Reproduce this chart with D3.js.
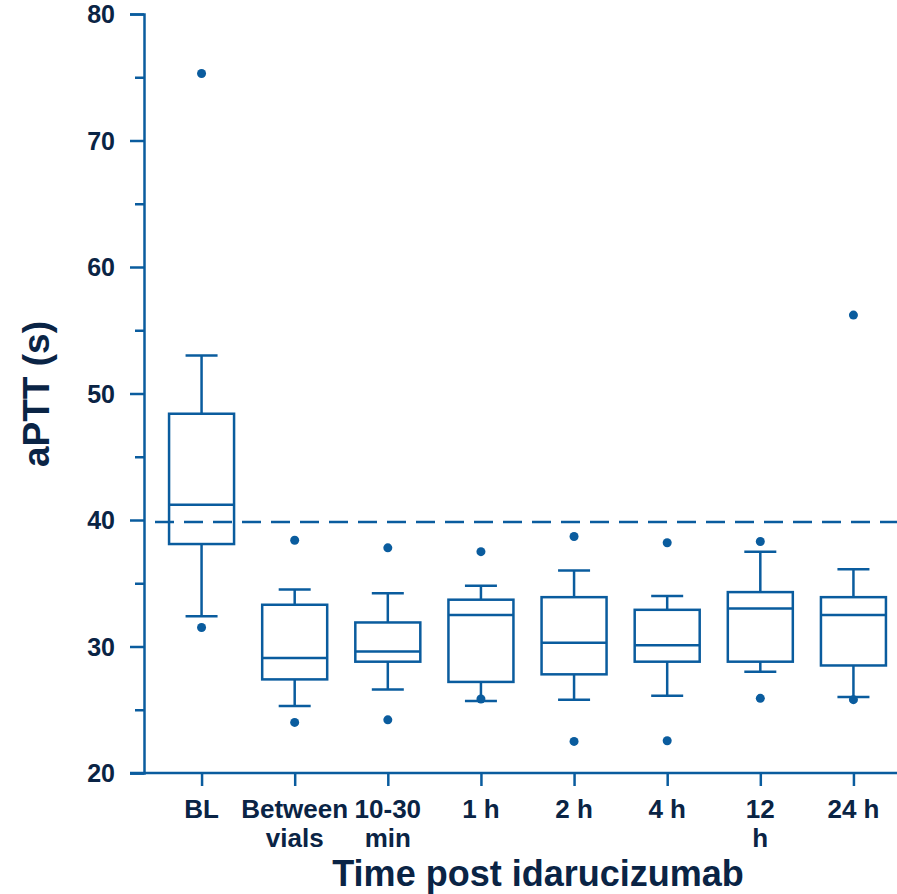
<!DOCTYPE html>
<html>
<head>
<meta charset="utf-8">
<script src="https://cdn.jsdelivr.net/npm/d3@7"></script>
<style>
  body { margin: 0; background: #fff; }
  svg text { font-family: "Liberation Sans", Arial, sans-serif; font-weight: bold; fill: #0a2445; }
</style>
</head>
<body>
<script>
// categories (label lines)
var categories = ["BL", "Between vials", "10-30 min", "1 h", "2 h", "4 h", "12 h", "24 h"];
var labelLines = [["BL"], ["Between", "vials"], ["10-30", "min"], ["1 h"], ["2 h"], ["4 h"], ["12", "h"], ["24 h"]];
// box stats, per category
var whiskerLow = [32.4, 25.3, 26.6, 25.7, 25.8, 26.1, 28.0, 26.0];
var q1 = [38.1, 27.4, 28.8, 27.2, 27.8, 28.8, 28.8, 28.5];
var median = [41.2, 29.1, 29.6, 32.5, 30.3, 30.1, 33.0, 32.5];
var q3 = [48.4, 33.3, 31.9, 33.7, 33.9, 32.9, 34.3, 33.9];
var whiskerHigh = [53.0, 34.5, 34.2, 34.8, 36.0, 34.0, 37.5, 36.1];
// outliers: [category index, value]
var outliers = [
  [0, 75.3], [0, 31.5],
  [1, 38.4], [1, 24.0],
  [2, 37.8], [2, 24.2],
  [3, 37.5], [3, 25.85],
  [4, 38.7], [4, 22.5],
  [5, 38.2], [5, 22.55],
  [6, 38.3], [6, 25.9],
  [7, 56.2], [7, 25.8]
];
var yTicks = [20, 30, 40, 50, 60, 70, 80];
var yMinorTicks = [25, 35, 45, 55, 65, 75];
var refLine = 39.85;

function draw() {
  var w = 897, h = 894;
  var color = "#0a5c9e";
  var svg = d3.select("body").append("svg").attr("width", w).attr("height", h);

  var x = d3.scalePoint().domain(categories).range([155, 900]).padding(0.5);
  var y = d3.scaleLinear().domain([20, 80]).range([773, 14]);

  var boxW = 65, capW = 32;

  // y axis
  var yAxis = d3.axisLeft(y).tickValues(yTicks).tickSize(14).tickPadding(15).tickFormat(d3.format("d"));
  var gy = svg.append("g").attr("transform", "translate(144,0)").call(yAxis);
  gy.select(".domain").attr("stroke", color).attr("stroke-width", 2.5);
  gy.selectAll(".tick line").attr("stroke", color).attr("stroke-width", 2.5);
  gy.selectAll(".tick text").style("font-size", "25px").attr("dy", "0.35em");
  svg.append("g").attr("transform", "translate(144,0)")
    .call(d3.axisLeft(y).tickValues(yMinorTicks).tickSize(9).tickFormat(""))
    .call(g => g.select(".domain").remove())
    .selectAll(".tick line").attr("stroke", color).attr("stroke-width", 2.5);

  // x axis
  var xAxis = d3.axisBottom(x).tickSize(13).tickFormat("");
  var gx = svg.append("g").attr("transform", "translate(0,773)").call(xAxis);
  gx.select(".domain").attr("d", "M130,0H897").attr("stroke", color).attr("stroke-width", 2.5);
  gx.selectAll(".tick line").attr("stroke", color).attr("stroke-width", 2.5);

  // x tick labels (multi-line)
  categories.forEach(function(c, i) {
    var t = svg.append("text").attr("text-anchor", "middle").style("font-size", "26px");
    labelLines[i].forEach(function(line, j) {
      t.append("tspan").attr("x", x(c)).attr("y", 818 + j * 29).text(line);
    });
  });

  // reference line
  svg.append("line")
    .attr("x1", 155).attr("x2", 897)
    .attr("y1", y(refLine)).attr("y2", y(refLine))
    .attr("stroke", color).attr("stroke-width", 2.5)
    .attr("stroke-dasharray", "19,10");

  // boxes
  var g = svg.append("g").attr("stroke", color).attr("stroke-width", 2.5).attr("fill", "none");
  categories.forEach(function(c, i) {
    var cx = x(c);
    g.append("line").attr("x1", cx).attr("x2", cx).attr("y1", y(whiskerHigh[i])).attr("y2", y(q3[i]));
    g.append("line").attr("x1", cx).attr("x2", cx).attr("y1", y(q1[i])).attr("y2", y(whiskerLow[i]));
    g.append("line").attr("x1", cx - capW / 2).attr("x2", cx + capW / 2).attr("y1", y(whiskerHigh[i])).attr("y2", y(whiskerHigh[i]));
    g.append("line").attr("x1", cx - capW / 2).attr("x2", cx + capW / 2).attr("y1", y(whiskerLow[i])).attr("y2", y(whiskerLow[i]));
    g.append("rect").attr("x", cx - boxW / 2).attr("width", boxW)
      .attr("y", y(q3[i])).attr("height", y(q1[i]) - y(q3[i]));
    g.append("line").attr("x1", cx - boxW / 2).attr("x2", cx + boxW / 2).attr("y1", y(median[i])).attr("y2", y(median[i]));
  });

  // outliers
  svg.selectAll("circle.out").data(outliers).enter().append("circle")
    .attr("class", "out")
    .attr("cx", d => x(categories[d[0]]))
    .attr("cy", d => y(d[1]))
    .attr("r", 4.5)
    .attr("fill", color);

  // axis titles
  svg.append("text")
    .attr("transform", "translate(49,394) rotate(-90)")
    .attr("text-anchor", "middle")
    .style("font-size", "37px")
    .text("aPTT (s)");
  svg.append("text")
    .attr("x", 538).attr("y", 886)
    .attr("text-anchor", "middle")
    .style("font-size", "36px")
    .text("Time post idarucizumab");
}
window.onload = draw;
</script>
</body>
</html>
